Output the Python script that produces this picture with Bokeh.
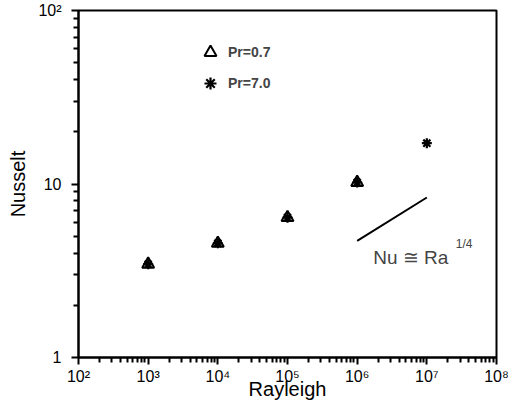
from bokeh.plotting import figure
from bokeh.models import Label, Legend, LegendItem, FixedTicker
from bokeh.embed import file_html
from bokeh.resources import INLINE

# data
ra_pr07 = [1e3, 1e4, 1e5, 1e6]
nu_pr07 = [3.45, 4.55, 6.4, 10.2]
ra_pr70 = [1e3, 1e4, 1e5, 1e6, 1e7]
nu_pr70 = [3.45, 4.55, 6.4, 10.2, 17.2]
fit_ra = [1e6, 1e7]
fit_nu = [4.7, 8.36]
x_exps = [2, 3, 4, 5, 6, 7, 8]
x_tick_labels = ["10\u00b2", "10\u00b3", "10\u2074", "10\u2075", "10\u2076", "10\u2077", "10\u2078"]
y_ticks = [1, 10, 100]
y_tick_labels = ["1", "10", "10\u00b2"]

FONT = "Liberation Sans"

p = figure(width=511, height=407, x_axis_type="log", y_axis_type="log",
           x_range=(1e2, 1e8), y_range=(1, 100),
           output_backend="svg", toolbar_location=None,
           min_border_left=78, min_border_right=15, min_border_top=10, min_border_bottom=50)
p.grid.visible = False
p.outline_line_color = "black"
p.outline_line_width = 2
p.background_fill_color = "white"
p.border_fill_color = "white"

for ax in (p.xaxis[0], p.yaxis[0]):
    ax.axis_line_width = 2
    ax.major_tick_line_width = 2
    ax.minor_tick_line_width = 2
    ax.major_tick_out = 7
    ax.major_tick_in = 0
    ax.minor_tick_out = 5
    ax.minor_tick_in = 0
    ax.major_label_text_font = FONT
    ax.major_label_text_font_size = "16px"
    ax.major_label_text_color = "black"
    ax.axis_label_text_font = FONT
    ax.axis_label_text_font_size = "20px"
    ax.axis_label_text_font_style = "normal"
    ax.axis_label_text_color = "black"

x_major = [10 ** e for e in x_exps]
p.xaxis.ticker = FixedTicker(ticks=x_major,
                             minor_ticks=[m * 10 ** e for e in x_exps[:-1] for m in range(2, 10)])
p.xaxis.major_label_overrides = {t: s for t, s in zip(x_major, x_tick_labels)}
p.yaxis.ticker = FixedTicker(ticks=y_ticks,
                             minor_ticks=[m * t for t in y_ticks[:-1] for m in range(2, 10)])
p.yaxis.major_label_overrides = {t: s for t, s in zip(y_ticks, y_tick_labels)}
p.xaxis.major_label_standoff = 3
p.yaxis.major_label_standoff = 10
p.xaxis.axis_label = "Rayleigh"
p.yaxis.axis_label = "Nusselt"
p.xaxis.axis_label_standoff = -10
p.yaxis.axis_label_standoff = 6

r1 = p.scatter(ra_pr07, nu_pr07, marker="triangle", size=12, fill_color=None,
               line_color="black", line_width=2)
r2 = p.scatter(ra_pr70, nu_pr70, marker="asterisk", size=10,
               line_color="black", line_width=2.2)
p.line(fit_ra, fit_nu, line_color="black", line_width=2)

p.add_layout(Label(x=1.7e6, y=3.77, text="Nu \u2245 Ra", text_font=FONT,
                   text_font_size="19px", text_baseline="alphabetic"))
p.add_layout(Label(x=2.6e7, y=4.5, text="1/4", text_font=FONT,
                   text_font_size="12px", text_baseline="alphabetic"))

legend = Legend(items=[LegendItem(label="Pr=0.7", renderers=[r1]),
                       LegendItem(label="Pr=7.0", renderers=[r2])],
                location=(117, 259), border_line_alpha=0, background_fill_alpha=0,
                padding=0, margin=0, spacing=1, glyph_width=30, glyph_height=30,
                label_height=30, label_standoff=3,
                label_text_font=FONT, label_text_font_size="14px",
                label_text_font_style="bold")
p.add_layout(legend)

open("out.html", "w").write(file_html(p, INLINE))
